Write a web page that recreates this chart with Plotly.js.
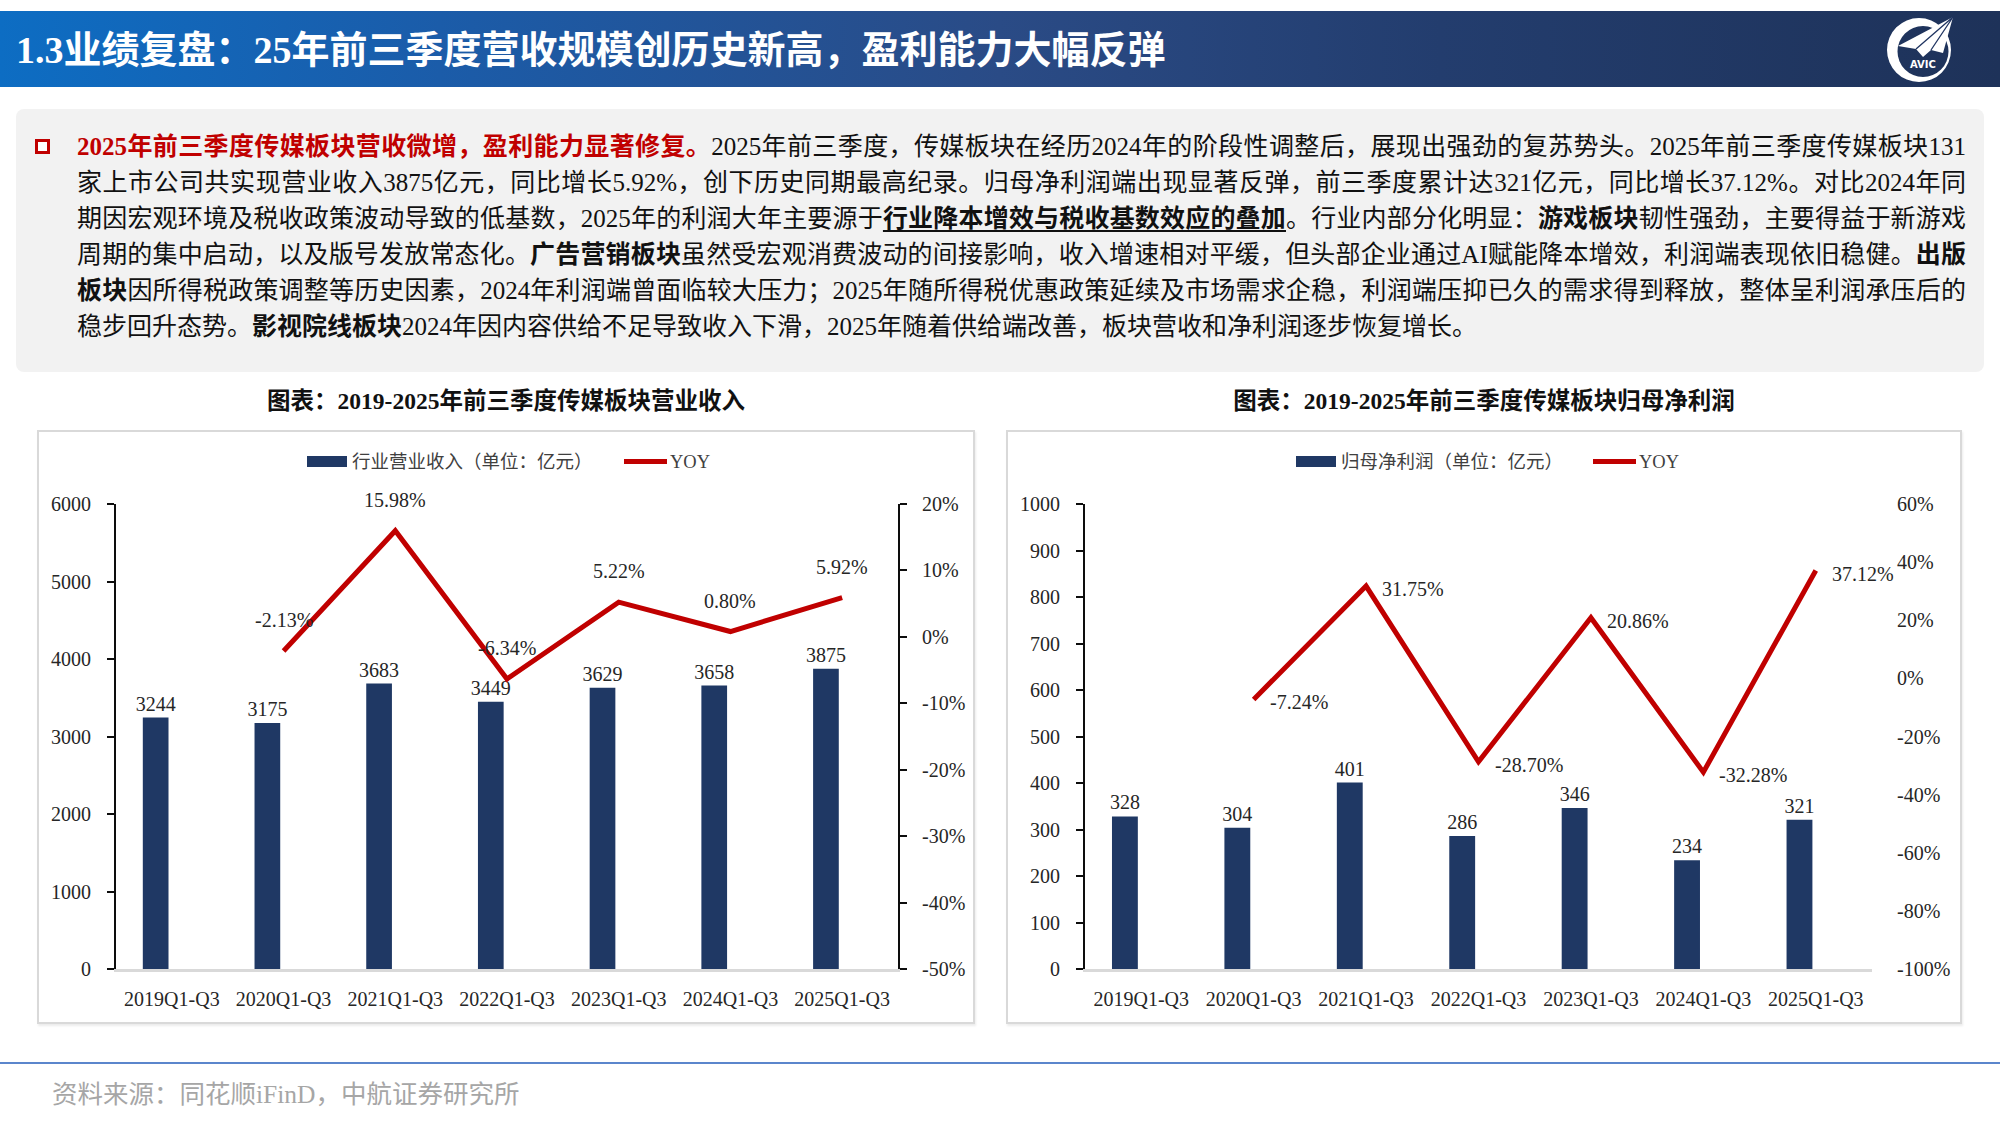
<!DOCTYPE html>
<html>
<head>
<meta charset="utf-8">
<script src="https://cdn.plot.ly/plotly-3.0.1.min.js"></script>
<style>
  html, body { margin: 0; padding: 0; }
  body {
    width: 2000px; height: 1125px; position: relative; overflow: hidden; background: #ffffff;
    font-family: "Liberation Serif", "Noto Sans CJK SC", serif;
  }
  #hdr {
    position: absolute; left: 0; top: 11px; width: 2000px; height: 76px;
    background: linear-gradient(90deg, #0d6dc3 0%, #1b5ca9 22%, #2a4b86 50%, #233d6e 72%, #1e3259 100%);
  }
  #hdr h1 {
    position: absolute; left: 16px; top: 0; margin: 0; line-height: 78px;
    font-size: 38px; font-weight: bold; color: #ffffff; white-space: nowrap;
  }
  #logo { position: absolute; left: 1870px; top: 11px; }
  #box {
    position: absolute; left: 16px; top: 109px; width: 1968px; height: 263px;
    background: #f2f2f2; border-radius: 8px;
  }
  #bullet {
    position: absolute; left: 35px; top: 139px; width: 9px; height: 9px;
    border: 3.5px solid #c00000; background: #ffffff;
  }
  #para { position: absolute; left: 77px; top: 129px; width: 1889px; color: #111111; font-size: 25px; }
  #para .ln { height: 36px; line-height: 36px; text-align: justify; text-align-last: justify; }
  #para .ln.last { text-align-last: left; }
  #para .red { color: #c00000; font-weight: bold; }
  #para b { font-weight: bold; }
  #para u { text-decoration: underline; text-underline-offset: 3px; font-weight: bold; }
  .ctitle {
    position: absolute; top: 384px; height: 34px; line-height: 34px; text-align: center;
    font-size: 23.5px; font-weight: bold; color: #111111; white-space: nowrap;
  }
  .frame {
    position: absolute; top: 430px; height: 590px; border: 2px solid #d9d9d9;
    box-shadow: 1px 2px 2px rgba(0,0,0,0.08); background: #ffffff;
  }
  #rule { position: absolute; left: 0; top: 1062px; width: 2000px; height: 2px; background: #5b86cc; }
  #src {
    position: absolute; left: 52px; top: 1078px; line-height: 34px; font-size: 25.5px; color: #a6a6a6; white-space: nowrap;
  }
</style>
</head>
<body>

<div id="hdr"><h1>1.3业绩复盘：25年前三季度营收规模创历史新高，盈利能力大幅反弹</h1></div>

<svg id="logo" width="100" height="76" viewBox="1870 11 100 76">
  <path fill="#ffffff" fill-rule="evenodd"
        d="M1951,50 a32,32 0 1,0 -64,0 a32,32 0 1,0 64,0 Z M1948.5,51.5 a25.5,25.5 0 1,0 -51,0 a25.5,25.5 0 1,0 51,0 Z"/>
  <polygon fill="#ffffff" points="1953,17 1898,46 1916,49 1923,57 1931,50 1943,53"/>
  <polyline fill="none" stroke="#1f3461" stroke-width="1.3" points="1916,49 1953,17 1931,50"/>
  <text x="1923" y="68" fill="#ffffff" font-family="DejaVu Sans, Liberation Sans, sans-serif" font-weight="bold" font-size="10" text-anchor="middle">AVIC</text>
</svg>

<div id="box"></div>
<div id="bullet"></div>
<div id="para">
  <div class="ln"><span class="red">2025年前三季度传媒板块营收微增，盈利能力显著修复。</span>2025年前三季度，传媒板块在经历2024年的阶段性调整后，展现出强劲的复苏势头。2025年前三季度传媒板块131</div>
  <div class="ln">家上市公司共实现营业收入3875亿元，同比增长5.92%，创下历史同期最高纪录。归母净利润端出现显著反弹，前三季度累计达321亿元，同比增长37.12%。对比2024年同</div>
  <div class="ln">期因宏观环境及税收政策波动导致的低基数，2025年的利润大年主要源于<u>行业降本增效与税收基数效应的叠加</u>。行业内部分化明显：<b>游戏板块</b>韧性强劲，主要得益于新游戏</div>
  <div class="ln">周期的集中启动，以及版号发放常态化。<b>广告营销板块</b>虽然受宏观消费波动的间接影响，收入增速相对平缓，但头部企业通过AI赋能降本增效，利润端表现依旧稳健。<b>出版</b></div>
  <div class="ln"><b>板块</b>因所得税政策调整等历史因素，2024年利润端曾面临较大压力；2025年随所得税优惠政策延续及市场需求企稳，利润端压抑已久的需求得到释放，整体呈利润承压后的</div>
  <div class="ln last">稳步回升态势。<b>影视院线板块</b>2024年因内容供给不足导致收入下滑，2025年随着供给端改善，板块营收和净利润逐步恢复增长。</div>
</div>

<div class="ctitle" style="left:37px;width:938px;">图表：2019-2025年前三季度传媒板块营业收入</div>
<div class="ctitle" style="left:1006px;width:956px;">图表：2019-2025年前三季度传媒板块归母净利润</div>

<div class="frame" style="left:37px;width:934px;"><div id="revChart"></div></div>
<div class="frame" style="left:1006px;width:952px;"><div id="profitChart"></div></div>

<div id="rule"></div>
<div id="src">资料来源：同花顺iFinD，中航证券研究所</div>

<script>
// ---- data ----
const periods = ['2019Q1-Q3', '2020Q1-Q3', '2021Q1-Q3', '2022Q1-Q3', '2023Q1-Q3', '2024Q1-Q3', '2025Q1-Q3'];
const yoyPeriods = ['2020Q1-Q3', '2021Q1-Q3', '2022Q1-Q3', '2023Q1-Q3', '2024Q1-Q3', '2025Q1-Q3'];

const revenue = [3244, 3175, 3683, 3449, 3629, 3658, 3875];          // 亿元
const revenueYoy = [-2.13, 15.98, -6.34, 5.22, 0.80, 5.92];           // %
const revenueTicks = [0, 1000, 2000, 3000, 4000, 5000, 6000];
const revenueYoyTicks = [-50, -40, -30, -20, -10, 0, 10, 20];

const profit = [328, 304, 401, 286, 346, 234, 321];                  // 亿元
const profitYoy = [-7.24, 31.75, -28.70, 20.86, -32.28, 37.12];       // %
const profitTicks = [0, 100, 200, 300, 400, 500, 600, 700, 800, 900, 1000];
const profitYoyTicks = [-100, -80, -60, -40, -20, 0, 20, 40, 60];

const revenueName = '行业营业收入（单位：亿元）';
const profitName = '归母净利润（单位：亿元）';
const yoyName = 'YOY';

// ---- styling ----
const FONT = 'Liberation Serif, Noto Sans CJK SC, serif';
const NAVY = '#1f3864';
const RED = '#c00000';
const TEXT = '#262626';
const AXIS = '#0d0d0d';

function pct(v) { return v.toFixed(2) + '%'; }

function drawChart(el, cfg) {
  const bars = {
    type: 'bar', x: periods, y: cfg.values, name: cfg.barName,
    width: 0.23, offset: -0.26,
    marker: { color: NAVY, line: { width: 0 } },
    text: cfg.values.map(v => String(v)), textposition: 'outside',
    textfont: { family: FONT, size: 20, color: TEXT },
    constraintext: 'none', cliponaxis: false, hoverinfo: 'skip'
  };
  const line = {
    type: 'scatter', mode: 'lines', x: yoyPeriods, y: cfg.yoy, yaxis: 'y2', name: yoyName,
    line: { color: RED, width: 5 }, cliponaxis: false, hoverinfo: 'skip'
  };

  // value labels on the YOY line
  const yoyLabels = cfg.yoy.map((v, i) => Object.assign({
    x: yoyPeriods[i], y: v, xref: 'x', yref: 'y2', text: pct(v), showarrow: false,
    font: { family: FONT, size: 20, color: TEXT }
  }, cfg.yoyLabelPos));

  // legend: swatches as shapes, names as annotations, placed above the plot area
  const lg = cfg.legend;
  const legendShapes = [
    { type: 'rect', xref: 'paper', yref: 'paper', xsizemode: 'pixel', ysizemode: 'pixel',
      xanchor: 0, yanchor: 1, x0: lg.barX, x1: lg.barX + 40, y0: 37, y1: 48,
      fillcolor: NAVY, line: { width: 0 } },
    { type: 'line', xref: 'paper', yref: 'paper', xsizemode: 'pixel', ysizemode: 'pixel',
      xanchor: 0, yanchor: 1, x0: lg.lineX, x1: lg.lineX + 43, y0: 42.5, y1: 42.5,
      line: { color: RED, width: 5 } }
  ];
  const legendText = [
    { text: cfg.barName, x0: lg.barX + 43 },
    { text: yoyName, x0: lg.lineX + 44 }
  ].map(t => ({
    xref: 'paper', yref: 'paper', x: 0, y: 1, xanchor: 'left', yanchor: 'middle',
    xshift: t.x0, yshift: 42.5, text: t.text, showarrow: false,
    font: { family: FONT, size: 18.5, color: '#404040' }
  }));

  const layout = {
    width: cfg.width, height: 590,
    margin: { l: 77, r: cfg.r, t: 72, b: 53 },
    paper_bgcolor: '#ffffff', plot_bgcolor: '#ffffff',
    showlegend: false,
    font: { family: FONT, size: 20, color: TEXT },
    xaxis: {
      type: 'category', categoryorder: 'array', categoryarray: periods,
      range: [-0.5, periods.length - 0.5], autorange: false,
      showline: true, linecolor: '#d9d9d9', linewidth: 2.5, ticks: '',
      showgrid: false, zeroline: false, ticklabelstandoff: 10,
      tickfont: { family: FONT, size: 20, color: TEXT }
    },
    yaxis: {
      range: [cfg.ticks[0], cfg.ticks[cfg.ticks.length - 1]], autorange: false,
      tickvals: cfg.ticks, ticktext: cfg.ticks.map(String),
      showline: true, linecolor: AXIS, linewidth: 2,
      ticks: 'outside', ticklen: 7, tickwidth: 2, tickcolor: AXIS,
      showgrid: false, zeroline: false, ticklabelstandoff: 12,
      tickfont: { family: FONT, size: 20, color: TEXT }
    },
    yaxis2: Object.assign({
      overlaying: 'y', side: 'right',
      range: [cfg.yoyTicks[0], cfg.yoyTicks[cfg.yoyTicks.length - 1]], autorange: false,
      tickvals: cfg.yoyTicks, ticktext: cfg.yoyTicks.map(v => v + '%'),
      showgrid: false, zeroline: false,
      tickfont: { family: FONT, size: 20, color: TEXT }
    }, cfg.y2style),
    shapes: legendShapes,
    annotations: yoyLabels.concat(legendText)
  };

  Plotly.newPlot(el, [bars, line], layout, { displayModeBar: false, staticPlot: true });
}

drawChart('revChart', {
  width: 934, r: 75,
  values: revenue, yoy: revenueYoy, barName: revenueName,
  ticks: revenueTicks, yoyTicks: revenueYoyTicks,
  y2style: { showline: true, linecolor: AXIS, linewidth: 2, ticks: 'outside', ticklen: 7,
             tickwidth: 2, tickcolor: AXIS, ticklabelstandoff: 11 },
  yoyLabelPos: { xanchor: 'center', yanchor: 'middle', yshift: 31 },
  legend: { barX: 191, lineX: 508 }
});

drawChart('profitChart', {
  width: 952, r: 88,
  values: profit, yoy: profitYoy, barName: profitName,
  ticks: profitTicks, yoyTicks: profitYoyTicks,
  y2style: { showline: false, ticks: '', ticklabelstandoff: 24 },
  yoyLabelPos: { xanchor: 'left', yanchor: 'middle', xshift: 14, yshift: -3 },
  legend: { barX: 211, lineX: 508 }
});
</script>
</body>
</html>
